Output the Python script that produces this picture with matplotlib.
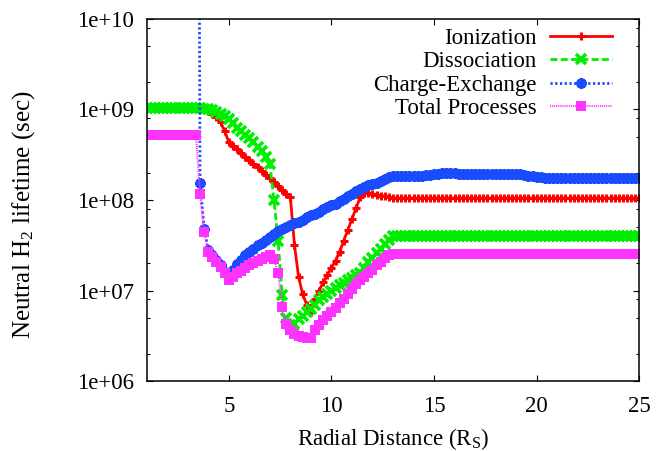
import numpy as np
import matplotlib
matplotlib.use("Agg")
import matplotlib.pyplot as plt
from matplotlib.ticker import LogLocator, FuncFormatter, NullLocator

plt.rcParams['font.family'] = ['Liberation Serif', 'DejaVu Serif']
plt.rcParams['mathtext.fontset'] = 'custom'
plt.rcParams['mathtext.rm'] = 'Liberation Serif'
plt.rcParams['mathtext.it'] = 'Liberation Serif:italic'

# radial distance grid (R_S), one point every 0.2
radius = np.round(np.linspace(1.0, 25.0, 121), 1)

# lifetimes in seconds
ionization = [
    1.05e9, 1.05e9, 1.05e9, 1.05e9, 1.05e9, 1.05e9, 1.05e9, 1.05e9, 1.05e9, 1.05e9,
    1.05e9, 1.05e9, 1.05e9, 1.05e9, 1.00e9, 9.55e8, 8.91e8, 8.32e8, 7.24e8, 5.75e8,
    4.37e8, 3.98e8, 3.63e8, 3.31e8, 3.02e8, 2.75e8, 2.51e8, 2.29e8, 2.09e8, 1.91e8,
    1.74e8, 1.58e8, 1.41e8, 1.29e8, 1.17e8, 1.07e8, 3.16e7, 1.41e7, 9.12e6, 6.92e6,
    5.75e6, 8.13e6, 1.00e7, 1.23e7, 1.48e7, 1.78e7, 2.14e7, 2.69e7, 3.55e7, 4.68e7,
    6.17e7, 8.13e7, 1.07e8, 1.20e8, 1.20e8, 1.17e8, 1.15e8, 1.12e8, 1.10e8, 1.07e8,
    1.05e8, 1.05e8, 1.05e8, 1.05e8, 1.05e8, 1.05e8, 1.05e8, 1.05e8, 1.05e8, 1.05e8,
    1.05e8, 1.05e8, 1.05e8, 1.05e8, 1.05e8, 1.05e8, 1.05e8, 1.05e8, 1.05e8, 1.05e8,
    1.05e8, 1.05e8, 1.05e8, 1.05e8, 1.05e8, 1.05e8, 1.05e8, 1.05e8, 1.05e8, 1.05e8,
    1.05e8, 1.05e8, 1.05e8, 1.05e8, 1.05e8, 1.05e8, 1.05e8, 1.05e8, 1.05e8, 1.05e8,
    1.05e8, 1.05e8, 1.05e8, 1.05e8, 1.05e8, 1.05e8, 1.05e8, 1.05e8, 1.05e8, 1.05e8,
    1.05e8, 1.05e8, 1.05e8, 1.05e8, 1.05e8, 1.05e8, 1.05e8, 1.05e8, 1.05e8, 1.05e8,
    1.05e8,
]
dissociation = [
    1.05e9, 1.05e9, 1.05e9, 1.05e9, 1.05e9, 1.05e9, 1.05e9, 1.05e9, 1.05e9, 1.05e9,
    1.05e9, 1.05e9, 1.05e9, 1.05e9, 1.02e9, 1.00e9, 9.77e8, 9.33e8, 8.91e8, 8.51e8,
    7.76e8, 7.08e8, 6.31e8, 5.75e8, 5.25e8, 4.79e8, 4.37e8, 3.89e8, 3.47e8, 3.02e8,
    2.51e8, 1.00e8, 3.55e7, 8.91e6, 5.01e6, 4.17e6, 4.27e6, 4.79e6, 5.25e6, 5.75e6,
    6.31e6, 6.92e6, 7.76e6, 8.51e6, 9.12e6, 1.00e7, 1.07e7, 1.15e7, 1.20e7, 1.29e7,
    1.38e7, 1.48e7, 1.58e7, 1.78e7, 2.04e7, 2.29e7, 2.57e7, 2.88e7, 3.24e7, 3.63e7,
    3.98e7, 3.98e7, 3.98e7, 3.98e7, 3.98e7, 3.98e7, 3.98e7, 3.98e7, 3.98e7, 3.98e7,
    3.98e7, 3.98e7, 3.98e7, 3.98e7, 3.98e7, 3.98e7, 3.98e7, 3.98e7, 3.98e7, 3.98e7,
    3.98e7, 3.98e7, 3.98e7, 3.98e7, 3.98e7, 3.98e7, 3.98e7, 3.98e7, 3.98e7, 3.98e7,
    3.98e7, 3.98e7, 3.98e7, 3.98e7, 3.98e7, 3.98e7, 3.98e7, 3.98e7, 3.98e7, 3.98e7,
    3.98e7, 3.98e7, 3.98e7, 3.98e7, 3.98e7, 3.98e7, 3.98e7, 3.98e7, 3.98e7, 3.98e7,
    3.98e7, 3.98e7, 3.98e7, 3.98e7, 3.98e7, 3.98e7, 3.98e7, 3.98e7, 3.98e7, 3.98e7,
    3.98e7,
]
charge_exchange = [
    1e20, 1e20, 1e20, 1e20, 1e20, 1e20, 1e20, 1e20, 1e20, 1e20,
    1e20, 1e20, 1e20, 1.55e8, 4.79e7, 2.82e7, 2.45e7, 2.19e7, 1.91e7, 1.62e7,
    1.41e7, 1.70e7, 1.95e7, 2.19e7, 2.45e7, 2.69e7, 2.88e7, 3.16e7, 3.39e7, 3.63e7,
    3.89e7, 4.17e7, 4.57e7, 4.79e7, 5.01e7, 5.25e7, 5.50e7, 5.75e7, 6.03e7, 6.46e7,
    6.76e7, 7.08e7, 7.41e7, 7.94e7, 8.32e7, 8.71e7, 9.12e7, 9.77e7, 1.02e8, 1.10e8,
    1.17e8, 1.26e8, 1.32e8, 1.38e8, 1.45e8, 1.51e8, 1.55e8, 1.62e8, 1.70e8, 1.78e8,
    1.82e8, 1.82e8, 1.82e8, 1.82e8, 1.82e8, 1.86e8, 1.86e8, 1.86e8, 1.91e8, 1.91e8,
    1.95e8, 1.95e8, 2.00e8, 2.00e8, 2.00e8, 2.00e8, 1.95e8, 1.95e8, 1.95e8, 1.95e8,
    1.95e8, 1.95e8, 1.95e8, 1.95e8, 1.95e8, 1.95e8, 1.95e8, 1.95e8, 1.95e8, 1.95e8,
    1.95e8, 1.95e8, 1.91e8, 1.86e8, 1.82e8, 1.78e8, 1.78e8, 1.74e8, 1.74e8, 1.74e8,
    1.74e8, 1.74e8, 1.74e8, 1.74e8, 1.74e8, 1.74e8, 1.74e8, 1.74e8, 1.74e8, 1.74e8,
    1.74e8, 1.74e8, 1.74e8, 1.74e8, 1.74e8, 1.74e8, 1.74e8, 1.74e8, 1.74e8, 1.74e8,
    1.74e8,
]
total = [
    5.25e8, 5.25e8, 5.25e8, 5.25e8, 5.25e8, 5.25e8, 5.25e8, 5.25e8, 5.25e8, 5.25e8,
    5.25e8, 5.25e8, 5.25e8, 1.17e8, 4.47e7, 2.69e7, 2.34e7, 2.09e7, 1.82e7, 1.55e7,
    1.32e7, 1.41e7, 1.55e7, 1.66e7, 1.78e7, 1.91e7, 2.00e7, 2.14e7, 2.24e7, 2.34e7,
    2.45e7, 2.24e7, 1.58e7, 6.61e6, 4.27e6, 3.63e6, 3.31e6, 3.16e6, 3.09e6, 3.02e6,
    2.95e6, 3.63e6, 4.17e6, 4.68e6, 5.25e6, 5.75e6, 6.46e6, 7.24e6, 8.13e6, 9.12e6,
    1.05e7, 1.17e7, 1.29e7, 1.41e7, 1.55e7, 1.70e7, 1.91e7, 2.09e7, 2.29e7, 2.45e7,
    2.51e7, 2.51e7, 2.51e7, 2.51e7, 2.51e7, 2.51e7, 2.51e7, 2.51e7, 2.51e7, 2.51e7,
    2.51e7, 2.51e7, 2.51e7, 2.51e7, 2.51e7, 2.51e7, 2.51e7, 2.51e7, 2.51e7, 2.51e7,
    2.51e7, 2.51e7, 2.51e7, 2.51e7, 2.51e7, 2.51e7, 2.51e7, 2.51e7, 2.51e7, 2.51e7,
    2.51e7, 2.51e7, 2.51e7, 2.51e7, 2.51e7, 2.51e7, 2.51e7, 2.51e7, 2.51e7, 2.51e7,
    2.51e7, 2.51e7, 2.51e7, 2.51e7, 2.51e7, 2.51e7, 2.51e7, 2.51e7, 2.51e7, 2.51e7,
    2.51e7, 2.51e7, 2.51e7, 2.51e7, 2.51e7, 2.51e7, 2.51e7, 2.51e7, 2.51e7, 2.51e7,
    2.51e7,
]

labels = ['Ionization', 'Dissociation', 'Charge-Exchange', 'Total Processes']

FS = 16.5
fig = plt.figure(figsize=(6.65, 4.51), dpi=100)
ax = fig.add_axes([0.2206, 0.1552, 0.7408, 0.8027])

ax.plot(radius, ionization, color='#ff0000', lw=2.0, ls='-',
        marker='+', ms=6, mew=2.2, label=labels[0])
ax.plot(radius, dissociation, color='#00ee00', lw=2.0, ls=(0, (2.5, 1.2)),
        marker='x', ms=6.5, mew=2.6, label=labels[1])
ax.plot(radius, charge_exchange, color='#1a4cff', lw=2.0, ls=(0, (0.8, 0.9)),
        marker=(8, 2, 0), ms=7.5, mew=2.4, label=labels[2])
ax.plot(radius, total, color='#ff33ff', lw=1.5, ls=(0, (0.5, 0.5)),
        marker='s', ms=7.5, mew=0, label=labels[3])

ax.set_yscale('log')
ax.set_xlim(1, 25)
ax.set_ylim(1e6, 1e10)
ax.set_xticks([5, 10, 15, 20, 25])
ax.xaxis.set_minor_locator(NullLocator())
ax.yaxis.set_major_locator(LogLocator(base=10, numticks=10))
ax.yaxis.set_minor_locator(LogLocator(base=10, subs=[2, 5, 8], numticks=10))
ax.yaxis.set_major_formatter(FuncFormatter(lambda v, p: f'{v:.0e}'))

for s in ax.spines.values():
    s.set_linewidth(1.1)
ax.tick_params(which='both', direction='in', top=True, right=True, width=0.8)
ax.tick_params(which='major', length=4.3, labelsize=FS)
ax.tick_params(which='minor', length=2.2)
ax.tick_params(axis='x', pad=11)
ax.tick_params(axis='y', pad=9)

ax.set_xlabel(r'Radial Distance (R$_\mathrm{S}$)', fontsize=FS)
ax.set_ylabel(r'Neutral H$_2$ lifetime (sec)', fontsize=18)
ax.xaxis.set_label_coords(0.5, -0.125)
ax.yaxis.set_label_coords(-0.223, 0.46)

ax.legend(loc='upper right', bbox_to_anchor=(0.945, 0.975), frameon=False,
          markerfirst=False, numpoints=1, fontsize=FS, handlelength=2.7,
          handletextpad=0.6, labelspacing=0.1, borderpad=0, borderaxespad=0)

fig.savefig('out.png', dpi=100)
